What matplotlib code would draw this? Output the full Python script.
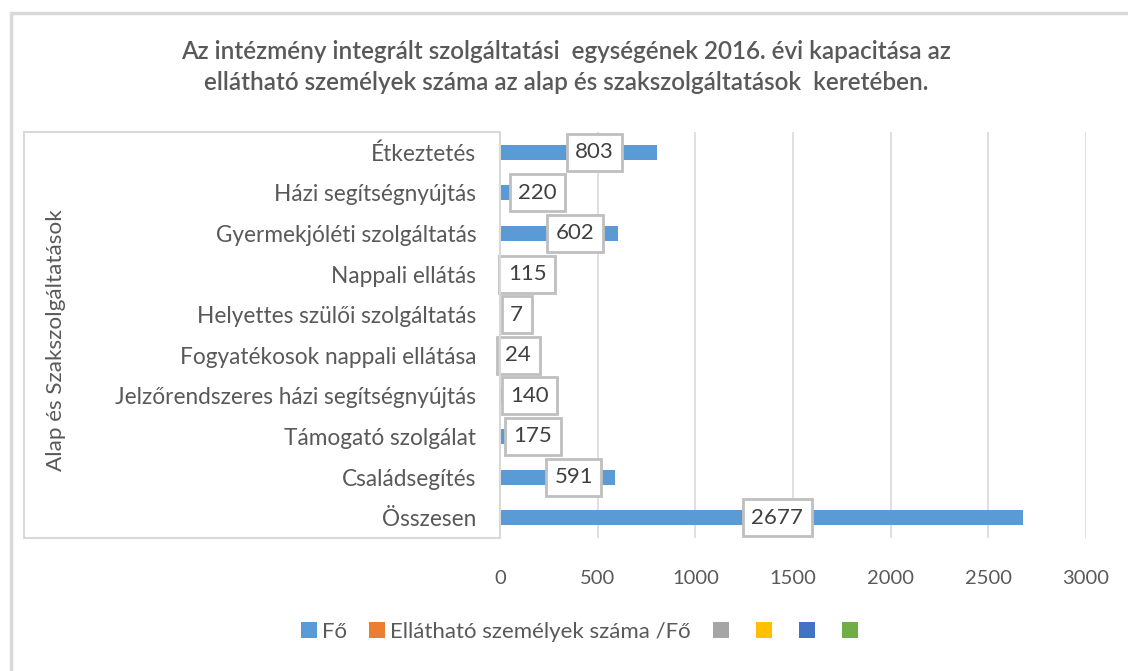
import matplotlib
matplotlib.use("Agg")
import matplotlib.pyplot as plt
from matplotlib.patches import Rectangle, Patch

plt.rcParams['font.family'] = ['Lato', 'DejaVu Sans']

categories = ["Étkeztetés", "Házi segítségnyújtás", "Gyermekjóléti szolgáltatás",
              "Nappali ellátás", "Helyettes szülői szolgáltatás",
              "Fogyatékosok nappali ellátása", "Jelzőrendszeres házi segítségnyújtás",
              "Támogató szolgálat", "Családsegítés", "Összesen"]
values = [803, 220, 602, 115, 7, 24, 140, 175, 591, 2677]
xticks = [0, 500, 1000, 1500, 2000, 2500, 3000]
title = ("Az intézmény integrált szolgáltatási  egységének 2016. évi kapacitása az\n"
         "ellátható személyek száma az alap és szakszolgáltatások  keretében.")
ytitle = "Alap és Szakszolgáltatások"
legend_labels = ["Fő", "Ellátható személyek száma /Fő", "", "", "", ""]
legend_colors = ["#5B9BD5", "#ED7D31", "#A5A5A5", "#FFC000", "#4472C4", "#70AD47"]

TXT = "#595959"
W, H = 1128, 671
fig = plt.figure(figsize=(W / 100, H / 100), dpi=100)

def fx(px):
    return px / W

def fy(py):
    return 1 - py / H

# outer chart border
fig.patches.append(Rectangle((fx(11), fy(H + 5)), fx(W + 10 - 11), fy(13) - fy(H + 5),
                             transform=fig.transFigure, fill=False,
                             edgecolor="#D9D9D9", linewidth=2.5))
# category label box
fig.patches.append(Rectangle((fx(24), fy(538)), fx(500 - 24), fy(132) - fy(538),
                             transform=fig.transFigure, fill=False,
                             edgecolor="#D9D9D9", linewidth=1.5))

ax = fig.add_axes([fx(500), fy(538), fx(1086 - 500), fy(132) - fy(538)])
y = list(range(len(categories)))
ax.barh(y, values, height=0.37, color="#5B9BD5", zorder=3)
ax.set_xlim(0, 3000)
ax.set_ylim(len(categories) - 0.5, -0.5)
ax.set_xticks(xticks)
ax.set_xticklabels([str(t) for t in xticks])
ax.set_yticks(y)
ax.set_yticklabels(categories)
ax.tick_params(axis='x', length=0, pad=23, labelsize=14.5, labelcolor=TXT)
ax.tick_params(axis='y', length=0, pad=17, labelsize=16.3, labelcolor=TXT)
ax.grid(axis='x', color="#D9D9D9", linewidth=1.2, zorder=0)
for s in ["top", "right", "bottom"]:
    ax.spines[s].set_visible(False)
ax.spines["left"].set_color("#D9D9D9")
ax.spines["left"].set_linewidth(1.2)
ax.set_facecolor("none")

for i, v in enumerate(values):
    ax.annotate(str(v), xy=(v / 2, i), xytext=(11.5, 0), textcoords="offset points",
                ha="center", va="center", fontsize=16, color="#404040", zorder=5,
                bbox=dict(boxstyle="square,pad=0.38", facecolor="white",
                          edgecolor="#BFBFBF", linewidth=2))

fig.text(fx(566), fy(67), title, ha="center", va="center", fontsize=17.5,
         fontweight="semibold", color=TXT, linespacing=1.45)
fig.text(fx(56), fy(340), ytitle, ha="center", va="center", rotation=90,
         fontsize=16.2, color=TXT)

handles = [Patch(facecolor=c, edgecolor="none") for c in legend_colors]
fig.legend(handles, legend_labels, loc="center", bbox_to_anchor=(fx(582), fy(632)),
           ncol=6, frameon=False, fontsize=16, labelcolor=TXT,
           handlelength=0.72, handleheight=0.72, handletextpad=0.22, columnspacing=1.0)

fig.savefig("out.png", dpi=100)
